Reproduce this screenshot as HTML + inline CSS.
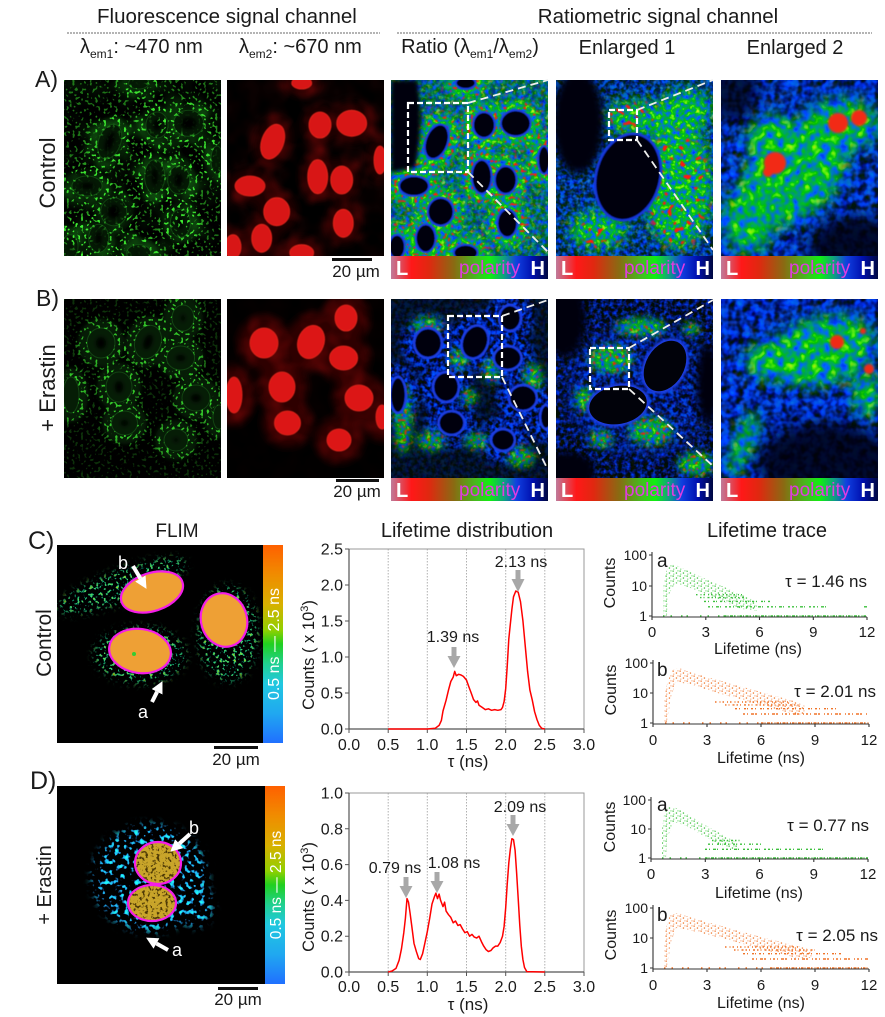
<!DOCTYPE html>
<html><head><meta charset="utf-8"><title>Figure</title>
<style>
html,body{margin:0;padding:0;background:#fff;width:885px;height:1017px;overflow:hidden}
svg{display:block;font-family:"Liberation Sans",Arial,sans-serif}
</style></head><body>
<svg xmlns="http://www.w3.org/2000/svg" width="885" height="1017" viewBox="0 0 885 1017">
<defs>
<linearGradient id="polar" x1="0" x2="1" y1="0" y2="0">
<stop offset="0" stop-color="#c07a9a"/><stop offset="0.13" stop-color="#ff1818"/><stop offset="0.24" stop-color="#e02810"/><stop offset="0.4" stop-color="#8a6a12"/><stop offset="0.55" stop-color="#40c020"/><stop offset="0.63" stop-color="#10f010"/><stop offset="0.72" stop-color="#10a080"/><stop offset="0.8" stop-color="#1040e0"/><stop offset="0.9" stop-color="#0010b0"/><stop offset="1" stop-color="#000840"/>
</linearGradient>
<linearGradient id="flimbar" x1="0" x2="0" y1="0" y2="1">
<stop offset="0" stop-color="#ff6000"/><stop offset="0.15" stop-color="#f08c00"/><stop offset="0.3" stop-color="#d8b000"/><stop offset="0.43" stop-color="#90d000"/><stop offset="0.5" stop-color="#20d020"/><stop offset="0.6" stop-color="#20d090"/><stop offset="0.7" stop-color="#20c8e0"/><stop offset="0.85" stop-color="#20a8f0"/><stop offset="1" stop-color="#2070ff"/>
</linearGradient>
<clipPath id="cp176"><rect width="157" height="176"/></clipPath>
<clipPath id="cp179"><rect width="157" height="179"/></clipPath>
<filter id="bl05" x="-50%" y="-50%" width="200%" height="200%"><feGaussianBlur stdDeviation="0.5"/></filter>
<filter id="bl1" x="-50%" y="-50%" width="200%" height="200%"><feGaussianBlur stdDeviation="1"/></filter>
<filter id="bl2" x="-50%" y="-50%" width="200%" height="200%"><feGaussianBlur stdDeviation="2"/></filter>
<filter id="bl4" x="-50%" y="-50%" width="200%" height="200%"><feGaussianBlur stdDeviation="4"/></filter>
<filter id="bl7" x="-60%" y="-60%" width="220%" height="220%"><feGaussianBlur stdDeviation="7"/></filter>
<filter id="fBlue" x="0" y="0" width="1" height="1" color-interpolation-filters="sRGB"><feTurbulence type="fractalNoise" baseFrequency="0.22" numOctaves="2" seed="3"/><feColorMatrix type="matrix" values="0 0 0 0 0  0.8 0 0 0 -0.32  2.6 0 0 0 -0.75  0 0 0 0 1"/></filter>
<filter id="fBlueDk" x="0" y="0" width="1" height="1" color-interpolation-filters="sRGB"><feTurbulence type="fractalNoise" baseFrequency="0.24" numOctaves="2" seed="13"/><feColorMatrix type="matrix" values="0 0 0 0 0  0.5 0 0 0 -0.22  2.2 0 0 0 -0.8  0 0 0 0 1"/></filter>
<filter id="fBlueBig" x="0" y="0" width="1" height="1" color-interpolation-filters="sRGB"><feTurbulence type="fractalNoise" baseFrequency="0.13" numOctaves="2" seed="17"/><feColorMatrix type="matrix" values="0 0 0 0 0  0.8 0 0 0 -0.3  2.6 0 0 0 -0.6  0 0 0 0 1"/></filter>
<filter id="fJet" x="0" y="0" width="1" height="1" color-interpolation-filters="sRGB"><feTurbulence type="fractalNoise" baseFrequency="0.2" numOctaves="2" seed="8"/><feColorMatrix type="matrix" values="3 0 0 0 -1.8  1.3 0 0 0 0.05  -3.2 0 0 0 1.9  0 0 0 0 1"/></filter>
<filter id="fJetBig" x="0" y="0" width="1" height="1" color-interpolation-filters="sRGB"><feTurbulence type="fractalNoise" baseFrequency="0.11" numOctaves="2" seed="9"/><feColorMatrix type="matrix" values="3 0 0 0 -1.8  1.3 0 0 0 0.05  -3.2 0 0 0 1.9  0 0 0 0 1"/></filter>
<filter id="fRed" x="0" y="0" width="1" height="1" color-interpolation-filters="sRGB"><feTurbulence type="fractalNoise" baseFrequency="0.3" numOctaves="1" seed="11"/><feColorMatrix type="matrix" values="0 0 0 0 1  0 0 0 0 0.1  0 0 0 0 0.05  16 0 0 0 -9.9"/><feGaussianBlur stdDeviation="0.4"/></filter>
<filter id="fRedBig" x="0" y="0" width="1" height="1" color-interpolation-filters="sRGB"><feTurbulence type="fractalNoise" baseFrequency="0.17" numOctaves="1" seed="12"/><feColorMatrix type="matrix" values="0 0 0 0 1  0 0 0 0 0.1  0 0 0 0 0.05  16 0 0 0 -10"/><feGaussianBlur stdDeviation="0.6"/></filter>
<filter id="fGdot" x="0" y="0" width="1" height="1" color-interpolation-filters="sRGB"><feTurbulence type="fractalNoise" baseFrequency="0.35" numOctaves="1" seed="4"/><feColorMatrix type="matrix" values="0 0 0 0 0.25  0 0 0 0 0.95  0 0 0 0 0.2  12 0 0 0 -6.9"/><feGaussianBlur stdDeviation="0.35"/></filter>
<filter id="fGhaze" x="0" y="0" width="1" height="1" color-interpolation-filters="sRGB"><feTurbulence type="fractalNoise" baseFrequency="0.05" numOctaves="2" seed="5"/><feColorMatrix type="matrix" values="0 0 0 0 0.1  0 0 0 0 0.55  0 0 0 0 0.1  1.2 0 0 0 -0.45"/></filter>
<filter id="fRhaze" x="0" y="0" width="1" height="1" color-interpolation-filters="sRGB"><feTurbulence type="fractalNoise" baseFrequency="0.05" numOctaves="2" seed="6"/><feColorMatrix type="matrix" values="0 0 0 0 0.5  0 0 0 0 0.03  0 0 0 0 0.03  1.2 0 0 0 -0.45"/></filter>
<filter id="fFlimC" x="0" y="0" width="1" height="1" color-interpolation-filters="sRGB"><feTurbulence type="fractalNoise" baseFrequency="0.3" numOctaves="2" seed="21"/><feColorMatrix type="matrix" values="3 0 0 0 -1.8  0 0 0 0 0.82  -2.6 0 0 0 2.2  10 0 0 0 -5.6"/></filter>
<filter id="fFlimD" x="0" y="0" width="1" height="1" color-interpolation-filters="sRGB"><feTurbulence type="fractalNoise" baseFrequency="0.2" numOctaves="2" seed="23"/><feColorMatrix type="matrix" values="0 0 0 0 0.12  2.2 0 0 0 -0.75  0 0 0 0 0.95  9 0 0 0 -4.9"/></filter>
<filter id="fMottle" x="0" y="0" width="1" height="1" color-interpolation-filters="sRGB"><feTurbulence type="fractalNoise" baseFrequency="0.35" numOctaves="2" seed="30"/><feColorMatrix type="matrix" values="0 0 0 0 0.3  0 0 0 0 0.22  0 0 0 0 0.02  7 0 0 0 -3.8"/></filter>

<g id="nucA">
<ellipse cx="45.7" cy="61.7" rx="11" ry="18" transform="rotate(20 45.7 61.7)"/>
<ellipse cx="93" cy="45" rx="11" ry="13"/>
<ellipse cx="124.7" cy="43.3" rx="15" ry="13"/>
<ellipse cx="90.7" cy="96.7" rx="10" ry="17"/>
<ellipse cx="114.7" cy="100" rx="11" ry="14"/>
<ellipse cx="23" cy="106" rx="15" ry="10"/>
<ellipse cx="49.7" cy="131.7" rx="13" ry="14"/>
<ellipse cx="116.3" cy="143.3" rx="10" ry="14"/>
<ellipse cx="34.7" cy="158.3" rx="10" ry="14"/>
<ellipse cx="6" cy="166.7" rx="8" ry="12"/>
<ellipse cx="74.7" cy="172.7" rx="12" ry="8"/>
<ellipse cx="153" cy="80" rx="6" ry="14"/>
<ellipse cx="74.7" cy="3" rx="10" ry="6"/>
</g>
<g id="nucB">
<ellipse cx="37" cy="44" rx="14" ry="15"/>
<ellipse cx="84" cy="43" rx="13" ry="17" transform="rotate(20 84 43)"/>
<ellipse cx="119" cy="19" rx="11" ry="13"/>
<ellipse cx="116.6" cy="59" rx="14" ry="12"/>
<ellipse cx="55" cy="88" rx="13" ry="15"/>
<ellipse cx="7" cy="96" rx="8" ry="18"/>
<ellipse cx="132" cy="99" rx="14" ry="13"/>
<ellipse cx="60.5" cy="124" rx="13" ry="12"/>
<ellipse cx="112" cy="141" rx="12" ry="11"/>
<ellipse cx="155" cy="118" rx="6" ry="12"/>
</g>

<mask id="mCytoA" maskUnits="userSpaceOnUse" x="0" y="0" width="157" height="179">
<rect width="157" height="179" fill="#333"/>
<use href="#nucA" fill="none" stroke="#fff" stroke-width="24" filter="url(#bl4)"/>
<use href="#nucA" fill="#000"/>
</mask>
<mask id="mCytoB" maskUnits="userSpaceOnUse" x="0" y="0" width="157" height="179">
<rect width="157" height="179" fill="#111"/>
<use href="#nucB" fill="none" stroke="#fff" stroke-width="24" filter="url(#bl4)"/>
<use href="#nucB" fill="#000"/>
</mask>
<mask id="mGA" maskUnits="userSpaceOnUse" x="0" y="0" width="157" height="179">
<rect width="157" height="179" fill="#777"/>
<use href="#nucA" fill="none" stroke="#fff" stroke-width="20" filter="url(#bl4)"/>
<use href="#nucA" fill="#111" filter="url(#bl2)"/>
<g fill="#fff" filter="url(#bl4)"><ellipse cx="12" cy="152" rx="14" ry="16"/><ellipse cx="102" cy="40" rx="8" ry="18"/><ellipse cx="120" cy="140" rx="12" ry="10"/></g>
</mask>
<mask id="mGB" maskUnits="userSpaceOnUse" x="0" y="0" width="157" height="179">
<rect width="157" height="179" fill="#333"/>
<use href="#nucB" fill="none" stroke="#ccc" stroke-width="20" filter="url(#bl4)"/>
<use href="#nucB" fill="#000"/>
</mask>
<mask id="mRA" maskUnits="userSpaceOnUse" x="0" y="0" width="157" height="179">
<rect width="157" height="179" fill="#8a8a8a"/>
<use href="#nucA" fill="none" stroke="#eee" stroke-width="22" filter="url(#bl4)"/>
</mask>
<mask id="mCellB" maskUnits="userSpaceOnUse" x="0" y="0" width="157" height="179">
<rect width="157" height="179" fill="#3a3a3a"/>
<use href="#nucB" fill="none" stroke="#fff" stroke-width="26" filter="url(#bl4)"/>
</mask>
<mask id="mRBg" maskUnits="userSpaceOnUse" x="0" y="0" width="157" height="179">
<rect width="157" height="179" fill="#101010"/>
<g fill="#ccc" filter="url(#bl4)">
<ellipse cx="12" cy="120" rx="9" ry="35"/><ellipse cx="36" cy="26" rx="16" ry="8"/><ellipse cx="68" cy="60" rx="10" ry="10"/><ellipse cx="100" cy="72" rx="8" ry="12"/><ellipse cx="142" cy="78" rx="10" ry="14"/><ellipse cx="40" cy="142" rx="14" ry="10"/><ellipse cx="86" cy="142" rx="12" ry="8"/><ellipse cx="130" cy="158" rx="14" ry="10"/><ellipse cx="78" cy="98" rx="8" ry="8"/>
</g>
</mask>
<mask id="mE1A" maskUnits="userSpaceOnUse" x="0" y="0" width="157" height="179">
<rect width="157" height="179" fill="#333"/>
<g fill="#eee" filter="url(#bl7)"><ellipse cx="122" cy="105" rx="36" ry="65"/><ellipse cx="82" cy="38" rx="35" ry="18"/><ellipse cx="42" cy="150" rx="30" ry="20"/><ellipse cx="130" cy="30" rx="28" ry="22"/></g>
</mask>
<mask id="mE1Ar" maskUnits="userSpaceOnUse" x="0" y="0" width="157" height="179">
<rect width="157" height="179" fill="#000"/>
<g fill="#fff" filter="url(#bl4)"><ellipse cx="122" cy="110" rx="32" ry="60"/><ellipse cx="75" cy="35" rx="30" ry="14"/><ellipse cx="40" cy="155" rx="25" ry="16"/></g>
</mask>
<mask id="mE2A" maskUnits="userSpaceOnUse" x="0" y="0" width="157" height="179">
<rect width="157" height="179" fill="#222"/>
<g fill="#eee" filter="url(#bl7)"><ellipse cx="72" cy="95" rx="62" ry="42" transform="rotate(-40 72 95)"/><ellipse cx="120" cy="45" rx="38" ry="26"/><ellipse cx="28" cy="140" rx="26" ry="34"/><ellipse cx="55" cy="60" rx="30" ry="25"/></g>
</mask>
<mask id="mE1Bc" maskUnits="userSpaceOnUse" x="0" y="0" width="157" height="179">
<rect width="157" height="179" fill="#000"/>
<ellipse cx="85" cy="90" rx="75" ry="65" fill="#ddd" filter="url(#bl7)"/>
</mask>
<mask id="mE1Bg" maskUnits="userSpaceOnUse" x="0" y="0" width="157" height="179">
<rect width="157" height="179" fill="#111"/>
<g fill="#ddd" filter="url(#bl4)"><ellipse cx="55" cy="60" rx="22" ry="14"/><ellipse cx="85" cy="28" rx="25" ry="9"/><ellipse cx="28" cy="100" rx="9" ry="12"/><ellipse cx="95" cy="132" rx="22" ry="14"/><ellipse cx="140" cy="165" rx="18" ry="12"/><ellipse cx="45" cy="140" rx="12" ry="8"/><ellipse cx="135" cy="30" rx="8" ry="6"/></g>
</mask>
<mask id="mE2B" maskUnits="userSpaceOnUse" x="0" y="0" width="157" height="179">
<rect width="157" height="179" fill="#1a1a1a"/>
<g fill="#eee" filter="url(#bl7)"><ellipse cx="100" cy="52" rx="55" ry="34" transform="rotate(-15 100 52)"/><ellipse cx="50" cy="62" rx="26" ry="20"/><ellipse cx="145" cy="95" rx="14" ry="24"/><ellipse cx="22" cy="145" rx="10" ry="35" transform="rotate(20 22 145)"/></g>
</mask>
<mask id="mFC" maskUnits="userSpaceOnUse" x="57" y="545" width="206" height="198">
<g fill="#fff" filter="url(#bl4)">
<ellipse cx="122" cy="586" rx="68" ry="16" transform="rotate(-20 122 586)"/>
<ellipse cx="228" cy="634" rx="30" ry="48"/>
<ellipse cx="140" cy="655" rx="46" ry="28"/>
</g>
</mask>
<mask id="mFD" maskUnits="userSpaceOnUse" x="57" y="786" width="208" height="198">
<g fill="#fff" filter="url(#bl4)">
<ellipse cx="150" cy="878" rx="58" ry="54"/>
<ellipse cx="195" cy="905" rx="18" ry="22"/>
</g>
</mask>
<clipPath id="cpFD">
<ellipse cx="158" cy="863" rx="23" ry="21"/>
<ellipse cx="152" cy="903" rx="24" ry="18"/>
</clipPath>
<pattern id="pG" width="7" height="5" patternUnits="userSpaceOnUse">
<rect x="0.5" y="0.5" width="1.3" height="1.3" fill="#3cc03c"/><rect x="3.8" y="2.4" width="1.3" height="1.3" fill="#3cc03c"/><rect x="1.2" y="3.6" width="1.1" height="1.1" fill="#6ad86a"/><rect x="5.4" y="0.3" width="1.1" height="1.1" fill="#6ad86a"/>
</pattern>
<pattern id="pO" width="7" height="5" patternUnits="userSpaceOnUse">
<rect x="0.5" y="0.5" width="1.3" height="1.3" fill="#f07428"/><rect x="3.8" y="2.4" width="1.3" height="1.3" fill="#f07428"/><rect x="1.2" y="3.6" width="1.1" height="1.1" fill="#f5a070"/><rect x="5.4" y="0.3" width="1.1" height="1.1" fill="#f5a070"/>
</pattern>
<marker id="ahW" markerWidth="3" markerHeight="3" refX="0" refY="1.5" orient="auto" markerUnits="strokeWidth"><path d="M0,0 L3,1.5 L0,3 Z" fill="#fff"/></marker>
</defs>

<rect width="885" height="1017" fill="#fff"/>

<!-- Headers -->
<g fill="#1a1a1a">
<text x="97" y="23" font-size="20.5">Fluorescence signal channel</text>
<text x="658" y="23" font-size="20.5" text-anchor="middle">Ratiometric signal channel</text>
<text x="80" y="53" font-size="20">λ<tspan font-size="12" dy="5">em1</tspan><tspan dy="-5">: ~470 nm</tspan></text>
<text x="239" y="53" font-size="20">λ<tspan font-size="12" dy="5">em2</tspan><tspan dy="-5">: ~670 nm</tspan></text>
<text x="470" y="53" font-size="20" text-anchor="middle">Ratio (λ<tspan font-size="12" dy="5">em1</tspan><tspan dy="-5">/λ</tspan><tspan font-size="12" dy="5">em2</tspan><tspan dy="-5">)</tspan></text>
<text x="627" y="54" font-size="20" text-anchor="middle">Enlarged 1</text>
<text x="795" y="54" font-size="20" text-anchor="middle">Enlarged 2</text>
</g>
<line x1="67" y1="33" x2="380" y2="33" stroke="#888" stroke-width="1.2" stroke-dasharray="2 1"/>
<line x1="397" y1="33" x2="872" y2="33" stroke="#888" stroke-width="1.2" stroke-dasharray="2 1"/>

<g fill="#1a1a1a" font-size="23">
<text x="35" y="87">A)</text>
<text x="36" y="306">B)</text>
<text x="28" y="549" font-size="25">C)</text>
<text x="30" y="789" font-size="25">D)</text>
<text x="55" y="173" font-size="22" text-anchor="middle" transform="rotate(-90 55 173)">Control</text>
<text x="55" y="388" font-size="22" text-anchor="middle" transform="rotate(-90 55 388)">+ Erastin</text>
<text x="51" y="643" font-size="21" text-anchor="middle" transform="rotate(-90 51 643)">Control</text>
<text x="51" y="885" font-size="20" text-anchor="middle" transform="rotate(-90 51 885)">+ Erastin</text>
</g>

<!-- Row A: green -->
<g transform="translate(64,80)" clip-path="url(#cp176)">
<rect width="157" height="176" fill="#000"/>
<rect width="157" height="176" filter="url(#fGhaze)" mask="url(#mCytoA)"/>
<use href="#nucA" fill="none" stroke="#0f4a0f" stroke-width="14" opacity="0.35" filter="url(#bl2)"/>
<use href="#nucA" fill="none" stroke="#1f7a1f" stroke-width="1" opacity="0.4"/>
<rect width="157" height="176" filter="url(#fGdot)" mask="url(#mGA)"/>
</g>
<!-- Row A: red -->
<g transform="translate(227,80)" clip-path="url(#cp176)">
<rect width="157" height="176" fill="#000"/>
<use href="#nucA" fill="none" stroke="#250303" stroke-width="16" opacity="0.8" filter="url(#bl4)"/>
<rect width="157" height="176" filter="url(#fRhaze)" mask="url(#mCytoA)"/>
<use href="#nucA" fill="#d81414" stroke="#f02a20" stroke-width="0.8" filter="url(#bl05)"/>
</g>
<!-- Row A: ratio -->
<g transform="translate(391,80)" clip-path="url(#cp176)">
<rect width="157" height="176" filter="url(#fBlue)"/>
<rect width="157" height="176" filter="url(#fJet)" mask="url(#mRA)"/>
<rect width="157" height="176" filter="url(#fRed)" mask="url(#mCytoA)"/>
<path d="M0,0 H26 Q34,45 24,88 L0,92 Z" fill="#01030c" filter="url(#bl2)"/>
<use href="#nucA" fill="#01030c" stroke="#1a3ee0" stroke-width="2" filter="url(#bl05)"/>
</g>
<!-- Row A: enlarged 1 -->
<g transform="translate(556,80)" clip-path="url(#cp176)">
<rect width="157" height="176" filter="url(#fBlue)"/>
<rect width="157" height="176" filter="url(#fJet)" mask="url(#mE1A)"/>
<rect width="157" height="176" filter="url(#fRedBig)" mask="url(#mE1Ar)"/>
<ellipse cx="22" cy="42" rx="26" ry="52" fill="#01020a" filter="url(#bl4)"/>
<ellipse cx="72" cy="97" rx="32" ry="44" transform="rotate(15 72 97)" fill="#01020a" stroke="#1838d8" stroke-width="2.5" filter="url(#bl05)"/>
</g>
<!-- Row A: enlarged 2 -->
<g transform="translate(721,80)" clip-path="url(#cp176)">
<rect width="157" height="176" filter="url(#fBlueBig)"/>
<rect width="157" height="176" filter="url(#fJetBig)" mask="url(#mE2A)"/>
<g fill="#f22a14" filter="url(#bl1)"><circle cx="54" cy="83" r="11"/><circle cx="117" cy="43" r="10"/><circle cx="138" cy="38" r="8"/><circle cx="47" cy="92" r="5"/></g>
<ellipse cx="10" cy="12" rx="28" ry="30" fill="#00020a" opacity="0.75" filter="url(#bl7)"/>
<ellipse cx="135" cy="168" rx="48" ry="32" fill="#00020a" opacity="0.85" filter="url(#bl7)"/>
</g>

<!-- Row B: green -->
<g transform="translate(64,299)" clip-path="url(#cp179)">
<rect width="157" height="179" fill="#000"/>
<use href="#nucB" fill="none" stroke="#0c3a0c" stroke-width="18" opacity="0.5" filter="url(#bl2)"/>
<use href="#nucB" fill="none" stroke="#1f6a1f" stroke-width="1" opacity="0.5"/>
<rect width="157" height="179" filter="url(#fGdot)" mask="url(#mGB)"/>
</g>
<!-- Row B: red -->
<g transform="translate(227,299)" clip-path="url(#cp179)">
<rect width="157" height="179" fill="#000"/>
<use href="#nucB" fill="none" stroke="#2e0404" stroke-width="24" filter="url(#bl4)"/>
<rect width="157" height="179" filter="url(#fRhaze)" mask="url(#mCytoB)"/>
<use href="#nucB" fill="#dc1515" stroke="#f02a20" stroke-width="0.8" filter="url(#bl05)"/>
</g>
<!-- Row B: ratio -->
<g transform="translate(391,299)" clip-path="url(#cp179)">
<rect width="157" height="179" fill="#000208"/>
<rect width="157" height="179" filter="url(#fBlue)" mask="url(#mCellB)"/>
<rect width="157" height="179" filter="url(#fJet)" mask="url(#mRBg)"/>
<rect width="157" height="179" filter="url(#fRed)" mask="url(#mRBg)"/>
<use href="#nucB" fill="#01030c" stroke="#1a3ee0" stroke-width="2.5" filter="url(#bl05)"/>
</g>
<!-- Row B: enlarged 1 -->
<g transform="translate(556,299)" clip-path="url(#cp179)">
<rect width="157" height="179" filter="url(#fBlueDk)"/>
<rect width="157" height="179" filter="url(#fBlue)" mask="url(#mE1Bc)"/>
<rect width="157" height="179" filter="url(#fJet)" mask="url(#mE1Bg)"/>
<rect width="157" height="179" filter="url(#fRed)" mask="url(#mE1Bg)"/>
<g fill="#00010a" filter="url(#bl4)"><ellipse cx="8" cy="20" rx="22" ry="38"/><ellipse cx="152" cy="85" rx="12" ry="40"/><ellipse cx="12" cy="172" rx="28" ry="20"/></g>
<g stroke="#1a3ee0" stroke-width="5" fill="none" filter="url(#bl1)"><ellipse cx="109" cy="67" rx="19" ry="27" transform="rotate(30 109 67)"/><ellipse cx="62" cy="106" rx="29" ry="19" transform="rotate(-10 62 106)"/></g>
<g fill="#01020a"><ellipse cx="109" cy="67" rx="19" ry="27" transform="rotate(30 109 67)"/><ellipse cx="62" cy="106" rx="29" ry="19" transform="rotate(-10 62 106)"/></g>
</g>
<!-- Row B: enlarged 2 -->
<g transform="translate(721,299)" clip-path="url(#cp179)">
<rect width="157" height="179" filter="url(#fBlueBig)"/>
<rect width="157" height="179" filter="url(#fJetBig)" mask="url(#mE2B)"/>
<g fill="#f02a14" filter="url(#bl1)"><circle cx="116" cy="43" r="7"/><circle cx="148" cy="70" r="5"/><circle cx="142" cy="32" r="3"/></g>
<ellipse cx="105" cy="165" rx="68" ry="42" fill="#00010a" opacity="0.85" filter="url(#bl7)"/>
</g>

<!-- Polarity colorbars -->
<g>
<rect x="391" y="256" width="157" height="23" fill="url(#polar)"/>
<rect x="556" y="256" width="157" height="23" fill="url(#polar)"/>
<rect x="721" y="256" width="157" height="23" fill="url(#polar)"/>
<rect x="391" y="478" width="157" height="23" fill="url(#polar)"/>
<rect x="556" y="478" width="157" height="23" fill="url(#polar)"/>
<rect x="721" y="478" width="157" height="23" fill="url(#polar)"/>
</g>
<g font-size="20" font-weight="bold" fill="#fff">
<text x="396" y="275">L</text><text x="561" y="275">L</text><text x="726" y="275">L</text>
<text x="396" y="497">L</text><text x="561" y="497">L</text><text x="726" y="497">L</text>
<text x="545" y="275" text-anchor="end">H</text><text x="710" y="275" text-anchor="end">H</text><text x="875" y="275" text-anchor="end">H</text>
<text x="545" y="497" text-anchor="end">H</text><text x="710" y="497" text-anchor="end">H</text><text x="875" y="497" text-anchor="end">H</text>
</g>
<g font-size="19" fill="#e03ce0">
<text x="459" y="274">polarity</text><text x="624" y="274">polarity</text><text x="789" y="274">polarity</text>
<text x="459" y="496">polarity</text><text x="624" y="496">polarity</text><text x="789" y="496">polarity</text>
</g>

<!-- Dashed zoom boxes -->
<g fill="none" stroke="#fff" stroke-width="2.2" stroke-dasharray="6 3">
<rect x="408" y="103" width="60" height="69"/>
<rect x="609" y="110" width="28" height="30"/>
<rect x="448" y="316" width="54" height="61"/>
<rect x="590" y="348" width="39" height="41"/>
</g>
<g stroke="#eee" stroke-width="1.8" stroke-dasharray="8 5">
<line x1="468" y1="103" x2="548" y2="80"/>
<line x1="468" y1="172" x2="548" y2="252"/>
<line x1="637" y1="110" x2="713" y2="80"/>
<line x1="637" y1="140" x2="713" y2="250"/>
<line x1="502" y1="316" x2="548" y2="300"/>
<line x1="502" y1="377" x2="548" y2="470"/>
<line x1="629" y1="348" x2="713" y2="300"/>
<line x1="629" y1="389" x2="713" y2="466"/>
</g>

<!-- Scale bars -->
<g fill="#111">
<rect x="332" y="258" width="40" height="3"/>
<rect x="336" y="479" width="43" height="3"/>
<rect x="214" y="746" width="44" height="3"/>
<rect x="218" y="987" width="40" height="3"/>
</g>
<g font-size="17" fill="#1a1a1a" text-anchor="middle">
<text x="356" y="277">20 µm</text>
<text x="357" y="497">20 µm</text>
<text x="236" y="765">20 µm</text>
<text x="238" y="1005">20 µm</text>
</g>

<!-- Section titles -->
<g fill="#1a1a1a" font-size="20" text-anchor="middle">
<text x="177" y="537" font-size="19">FLIM</text>
<text x="467" y="537">Lifetime distribution</text>
<text x="767" y="537">Lifetime trace</text>
</g>

<!-- FLIM C -->
<rect x="57" y="545" width="206" height="198" fill="#000"/>
<rect x="57" y="545" width="206" height="198" filter="url(#fFlimC)" mask="url(#mFC)"/>
<g stroke="#f41ee8" stroke-width="2.2" fill="#eea035">
<ellipse cx="152" cy="592" rx="32" ry="19" transform="rotate(-18 152 592)"/>
<ellipse cx="224" cy="620" rx="23" ry="27" transform="rotate(-15 224 620)"/>
<ellipse cx="140" cy="651" rx="31" ry="22" transform="rotate(8 140 651)"/>
</g>
<circle cx="134" cy="654" r="2" fill="#3c3"/>
<rect x="263" y="545" width="20" height="198" fill="url(#flimbar)"/>
<text x="279" y="644" font-size="16" fill="#fff" text-anchor="middle" transform="rotate(-90 279 644)">0.5 ns — 2.5 ns</text>
<g stroke="#fff" stroke-width="4" marker-end="url(#ahW)">
<line x1="133" y1="566" x2="140.4" y2="578.5"/>
<line x1="152" y1="702" x2="157.1" y2="691.8"/>
</g>
<g fill="#fff" font-size="18" text-anchor="middle">
<text x="123" y="569">b</text>
<text x="143" y="718">a</text>
</g>

<!-- FLIM D -->
<rect x="57" y="786" width="208" height="198" fill="#000"/>
<rect x="57" y="786" width="208" height="198" filter="url(#fFlimD)" mask="url(#mFD)"/>
<g fill="#c9a52a">
<ellipse cx="158" cy="863" rx="23" ry="21"/>
<ellipse cx="152" cy="903" rx="24" ry="18"/>
</g>
<rect x="130" y="840" width="55" height="85" filter="url(#fMottle)" clip-path="url(#cpFD)"/>
<g stroke="#f41ee8" stroke-width="2.2" fill="none">
<ellipse cx="158" cy="863" rx="23" ry="21"/>
<ellipse cx="152" cy="903" rx="24" ry="18"/>
</g>
<rect x="265" y="786" width="20" height="198" fill="url(#flimbar)"/>
<text x="281" y="885" font-size="15.5" fill="#fff" text-anchor="middle" transform="rotate(-90 281 885)">0.5 ns — 2.5 ns</text>
<g stroke="#fff" stroke-width="4" marker-end="url(#ahW)">
<line x1="190" y1="834" x2="179.2" y2="843.7"/>
<line x1="168" y1="950" x2="156.5" y2="943.5"/>
</g>
<g fill="#fff" font-size="18" text-anchor="middle">
<text x="194" y="834">b</text>
<text x="177" y="956">a</text>
</g>

<!-- Lifetime distribution C -->
<g stroke="#b0b0b0" stroke-width="1" stroke-dasharray="1.5 1.5">
<line x1="388.2" y1="549" x2="388.2" y2="729"/><line x1="427.3" y1="549" x2="427.3" y2="729"/><line x1="466.5" y1="549" x2="466.5" y2="729"/><line x1="505.7" y1="549" x2="505.7" y2="729"/><line x1="544.8" y1="549" x2="544.8" y2="729"/>
</g>
<rect x="349" y="549" width="235" height="180" fill="none" stroke="#999" stroke-width="1"/>
<path d="M349,549 V729 H584" fill="none" stroke="#555" stroke-width="1.2"/>
<g stroke="#555" stroke-width="1">
<path d="M345,729 H349 M345,693 H349 M345,657 H349 M345,621 H349 M345,585 H349 M345,549 H349"/>
<path d="M349,729 V733 M388.2,729 V733 M427.3,729 V733 M466.5,729 V733 M505.7,729 V733 M544.8,729 V733 M584,729 V733"/>
</g>
<g font-size="16" fill="#1a1a1a" text-anchor="end">
<text x="343" y="734.5">0.0</text><text x="343" y="698.5">0.5</text><text x="343" y="662.5">1.0</text><text x="343" y="626.5">1.5</text><text x="343" y="590.5">2.0</text><text x="343" y="554.5">2.5</text>
</g>
<g font-size="16" fill="#1a1a1a" text-anchor="middle">
<text x="349" y="750">0.0</text><text x="388.2" y="750">0.5</text><text x="427.3" y="750">1.0</text><text x="466.5" y="750">1.5</text><text x="505.7" y="750">2.0</text><text x="544.8" y="750">2.5</text><text x="584" y="750">3.0</text>
<text x="468" y="767" font-size="17">τ (ns)</text>
</g>
<text x="314" y="655" font-size="16.5" fill="#1a1a1a" text-anchor="middle" transform="rotate(-90 314 655)">Counts ( x 10<tspan font-size="11" dy="-6">3</tspan><tspan dy="6">)</tspan></text>
<polyline fill="none" stroke="#f00" stroke-width="1.5" stroke-linejoin="round" points="388.2,729 427.3,729 435.2,728.3 439.1,725.4 441.4,720.4 443,711 446.1,700.2 448.5,690.1 450.8,681.5 453.2,677.1 454.7,671.4 456.3,675.7 458.7,674.3 461,675 463.4,676.4 466.5,680.1 468.8,686.6 471.2,693 473.5,699.5 475.9,702.4 477.5,700.9 479,705.2 482.2,707.4 485.3,709.6 488.4,708.8 491.6,710.3 494.7,709.6 497.8,710.3 501,709.6 502.5,707.4 504.1,701.6 505.7,688.7 507.2,666.6 508.8,639 510.4,623.4 511.9,609.2 513.5,596.8 515.8,591 518.2,592.2 520.5,601.7 522.9,620.6 525.2,645.5 527.6,671.4 529.9,690.1 532.3,700.2 534.6,711.7 537,719.6 539.3,725.4 541.7,728.3 544.8,729"/>
<g fill="#a8a8a8">
<rect x="451.5" y="647" width="5" height="10"/><polygon points="447.5,656 460.5,656 454,668"/>
<rect x="515.5" y="570" width="5" height="10"/><polygon points="511.5,579 524.5,579 518,592"/>
</g>
<g font-size="16" fill="#1a1a1a" text-anchor="middle">
<text x="453" y="642">1.39 ns</text>
<text x="521" y="567">2.13 ns</text>
</g>

<!-- Lifetime distribution D -->
<g stroke="#b0b0b0" stroke-width="1" stroke-dasharray="1.5 1.5">
<line x1="388.2" y1="793" x2="388.2" y2="972"/><line x1="427.3" y1="793" x2="427.3" y2="972"/><line x1="466.5" y1="793" x2="466.5" y2="972"/><line x1="505.7" y1="793" x2="505.7" y2="972"/><line x1="544.8" y1="793" x2="544.8" y2="972"/>
</g>
<rect x="349" y="793" width="235" height="179" fill="none" stroke="#999" stroke-width="1"/>
<path d="M349,793 V972 H584" fill="none" stroke="#555" stroke-width="1.2"/>
<g stroke="#555" stroke-width="1">
<path d="M345,972 H349 M345,936.2 H349 M345,900.4 H349 M345,864.6 H349 M345,828.8 H349 M345,793 H349"/>
<path d="M349,972 V976 M388.2,972 V976 M427.3,972 V976 M466.5,972 V976 M505.7,972 V976 M544.8,972 V976 M584,972 V976"/>
</g>
<g font-size="16" fill="#1a1a1a" text-anchor="end">
<text x="343" y="977.5">0.0</text><text x="343" y="941.7">0.2</text><text x="343" y="905.9">0.4</text><text x="343" y="870.1">0.6</text><text x="343" y="834.3">0.8</text><text x="343" y="798.5">1.0</text>
</g>
<g font-size="16" fill="#1a1a1a" text-anchor="middle">
<text x="349" y="992">0.0</text><text x="388.2" y="992">0.5</text><text x="427.3" y="992">1.0</text><text x="466.5" y="992">1.5</text><text x="505.7" y="992">2.0</text><text x="544.8" y="992">2.5</text><text x="584" y="992">3.0</text>
<text x="468" y="1010" font-size="17">τ (ns)</text>
</g>
<text x="314" y="897" font-size="16.5" fill="#1a1a1a" text-anchor="middle" transform="rotate(-90 314 897)">Counts ( x 10<tspan font-size="11" dy="-6">3</tspan><tspan dy="6">)</tspan></text>
<polyline fill="none" stroke="#f00" stroke-width="1.5" stroke-linejoin="round" points="388.2,972 392.1,971 396,968.4 399.1,960.3 401.5,948.7 403.8,932.6 405.4,918.3 407,898.6 408.5,902.2 410.1,913.3 411.7,925.5 414,943.4 416.4,951.7 418.7,958.6 420.3,959.5 422.6,953.7 425,942.5 427.3,931.7 429.7,918.3 432,904 434.4,896.8 435.9,893.2 437.5,898.6 439.1,894.1 440.6,900.4 443,906.6 444.6,902.2 446.1,911.1 448.5,914.7 450.8,917.4 453.2,922.8 455.5,921 457.9,925.5 460.2,924.6 462.6,929.1 464.9,932.7 467.3,931.7 469.6,936.2 472,934.4 474.3,937.1 476.7,938 479,936.2 481.4,941.6 483.7,946.1 486.1,949.7 488.4,951.5 490.8,950.6 493.1,947.9 495.5,946.1 497.8,946.1 500.2,942.5 502.5,936.2 504.1,926.5 505.7,907.7 507.2,884.4 508.8,862.9 510.4,848.6 511.9,838.7 513.5,839.6 515.1,850.4 516.6,872.6 518.2,898.6 519.8,925.5 521.3,946.1 522.9,959.5 524.5,967.5 526.8,971.6 544.8,972"/>
<g fill="#a8a8a8">
<rect x="403.5" y="877" width="5" height="10"/><polygon points="399.5,886 412.5,886 406,898"/>
<rect x="434.5" y="872" width="5" height="10"/><polygon points="430.5,881 443.5,881 437,893"/>
<rect x="510.5" y="815" width="5" height="10"/><polygon points="506.5,824 519.5,824 513,836"/>
</g>
<g font-size="16" fill="#1a1a1a" text-anchor="middle">
<text x="395" y="873">0.79 ns</text>
<text x="454" y="868">1.08 ns</text>
<text x="520" y="812">2.09 ns</text>
</g>

<!-- Lifetime traces -->
<polygon fill="url(#pG)" points="663,616 663,590 665,574 670,564 678,566 688,571 706,579 724,587 742,595 757,602 757,611 742,609 724,602 706,594 688,587 675,583 668,596 667,616"/>
<g fill="none" stroke="#3cc03c" stroke-width="1.4">
<line x1="663" y1="616" x2="724" y2="616" stroke-dasharray="1.5 6 1.5 9 1.5 4 1.5 12"/>
<line x1="724" y1="616" x2="866" y2="616" stroke-dasharray="2.5 1 1 1.5 3 1 1.5 2 1 1"/>
<line x1="708" y1="606.8" x2="830" y2="606.8" stroke-dasharray="2 2 1 3 3 1 1 4 2 2"/>
<line x1="864" y1="606.8" x2="867" y2="606.8"/>
<line x1="704" y1="601.4" x2="770" y2="601.4" stroke-dasharray="2 2 1 4 2 1 1 3"/>
<line x1="700" y1="597.6" x2="745" y2="597.6" stroke-dasharray="1.5 2 1 3 2 2"/>
<line x1="696" y1="594.7" x2="742" y2="594.7" stroke-dasharray="1.5 3 1 2"/>
</g>
<polygon fill="url(#pO)" points="664,723 664,700 667,684 672,670 680,668 689,672 707,677 725,682 743,687 761,692 779,697 797,702 805,706 805,714 797,715 779,710 761,705 743,700 725,695 707,690 689,684 676,682 670,700 668,723"/>
<g fill="none" stroke="#f07428" stroke-width="1.4">
<line x1="665" y1="723" x2="761" y2="723" stroke-dasharray="1.5 6 1.5 9 1.5 4 1.5 12"/>
<line x1="761" y1="723" x2="869" y2="723" stroke-dasharray="2.5 1 1 1.5 3 1 1.5 2 1 1"/>
<line x1="743" y1="714" x2="869" y2="714" stroke-dasharray="2 2 1 3 3 1 2 4 1 2"/>
<line x1="735" y1="708.7" x2="840" y2="708.7" stroke-dasharray="2 2 1 4 2 1 1 3"/>
<line x1="725" y1="704.9" x2="800" y2="704.9" stroke-dasharray="1.5 2 1 3 2 2"/>
<line x1="715" y1="702" x2="790" y2="702" stroke-dasharray="1.5 3 1 2"/>
</g>
<polygon fill="url(#pG)" points="662,858 662,830 664,815 668,806 676,808 687,814 705,825 723,835 738,843 738,851 723,846 705,837 687,826 674,822 667,838 666,858"/>
<g fill="none" stroke="#3cc03c" stroke-width="1.4">
<line x1="662" y1="858" x2="705" y2="858" stroke-dasharray="1.5 6 1.5 9 1.5 4 1.5 12"/>
<line x1="705" y1="858" x2="868" y2="858" stroke-dasharray="2.5 1 1 1.5 3 1 1.5 2 1 1"/>
<line x1="705" y1="849.3" x2="823" y2="849.3" stroke-dasharray="2 2 1 3 3 1 1 4 2 2"/>
<line x1="708" y1="844.2" x2="765" y2="844.2" stroke-dasharray="2 2 1 4 2 1 1 3"/>
<line x1="712" y1="840.5" x2="742" y2="840.5" stroke-dasharray="1.5 2 1 3 2 2"/>
</g>
<polygon fill="url(#pO)" points="664,968 664,945 666,928 670,915 678,913 689,917 725,927 761,937 797,946 812,950 812,958 797,958 761,949 725,939 689,930 676,928 670,945 668,968"/>
<g fill="none" stroke="#f07428" stroke-width="1.4">
<line x1="664" y1="968" x2="770" y2="968" stroke-dasharray="1.5 6 1.5 9 1.5 4 1.5 12"/>
<line x1="770" y1="968" x2="869" y2="968" stroke-dasharray="2.5 1 1 1.5 3 1 1.5 2 1 1"/>
<line x1="752" y1="959" x2="869" y2="959" stroke-dasharray="2 2 1 3 3 1 2 4 1 2"/>
<line x1="743" y1="953.7" x2="842" y2="953.7" stroke-dasharray="2 2 1 4 2 1 1 3"/>
<line x1="734" y1="950" x2="815" y2="950" stroke-dasharray="1.5 2 1 3 2 2"/>
<line x1="725" y1="947" x2="800" y2="947" stroke-dasharray="1.5 3 1 2"/>
</g>
<g fill="none" stroke="#333" stroke-width="1.1">
<path d="M652,552 V617 H867"/>
<path d="M649,555 H652 M649,586 H652 M649,616 H652 M652,617 V620 M705.8,617 V620 M759.5,617 V620 M813.3,617 V620 M867,617 V620"/>
<path d="M653,660 V724 H869"/>
<path d="M650,663 H653 M650,693 H653 M650,723 H653 M653,724 V727 M707,724 V727 M761,724 V727 M815,724 V727 M869,724 V727"/>
<path d="M651,797 V859 H868"/>
<path d="M648,800 H651 M648,829 H651 M648,858 H651 M651,859 V862 M705.3,859 V862 M759.5,859 V862 M813.8,859 V862 M868,859 V862"/>
<path d="M653,905 V969 H869"/>
<path d="M650,908 H653 M650,938 H653 M650,968 H653 M653,969 V972 M707,969 V972 M761,969 V972 M815,969 V972 M869,969 V972"/>
</g>
<g font-size="14" fill="#1a1a1a" text-anchor="end">
<text x="647" y="560">100</text><text x="647" y="591">10</text><text x="647" y="621">1</text>
<text x="648" y="668">100</text><text x="648" y="698">10</text><text x="648" y="728">1</text>
<text x="646" y="805">100</text><text x="646" y="834">10</text><text x="646" y="863">1</text>
<text x="648" y="913">100</text><text x="648" y="943">10</text><text x="648" y="973">1</text>
</g>
<g font-size="15" fill="#1a1a1a" text-anchor="middle">
<text x="652" y="637">0</text><text x="705.8" y="637">3</text><text x="759.5" y="637">6</text><text x="813.3" y="637">9</text><text x="867" y="637">12</text>
<text x="653" y="745">0</text><text x="707" y="745">3</text><text x="761" y="745">6</text><text x="815" y="745">9</text><text x="869" y="745">12</text>
<text x="651" y="879">0</text><text x="705.3" y="879">3</text><text x="759.5" y="879">6</text><text x="813.8" y="879">9</text><text x="868" y="879">12</text>
<text x="653" y="990">0</text><text x="707" y="990">3</text><text x="761" y="990">6</text><text x="815" y="990">9</text><text x="869" y="990">12</text>
</g>
<g font-size="16" fill="#1a1a1a" text-anchor="middle">
<text x="758" y="654">Lifetime (ns)</text>
<text x="761" y="763">Lifetime (ns)</text>
<text x="759" y="898">Lifetime (ns)</text>
<text x="761" y="1008">Lifetime (ns)</text>
<text x="615" y="583" transform="rotate(-90 615 583)">Counts</text>
<text x="616" y="690" transform="rotate(-90 616 690)">Counts</text>
<text x="615" y="827" transform="rotate(-90 615 827)">Counts</text>
<text x="616" y="935" transform="rotate(-90 616 935)">Counts</text>
</g>
<g font-size="19" fill="#1a1a1a">
<text x="657" y="567">a</text>
<text x="657" y="676">b</text>
<text x="657" y="811">a</text>
<text x="657" y="921">b</text>
</g>
<g font-size="17" fill="#1a1a1a" text-anchor="end">
<text x="867" y="587">τ = 1.46 ns</text>
<text x="876" y="697">τ = 2.01 ns</text>
<text x="869" y="831">τ = 0.77 ns</text>
<text x="878" y="941">τ = 2.05 ns</text>
</g>
</svg>
</body></html>
